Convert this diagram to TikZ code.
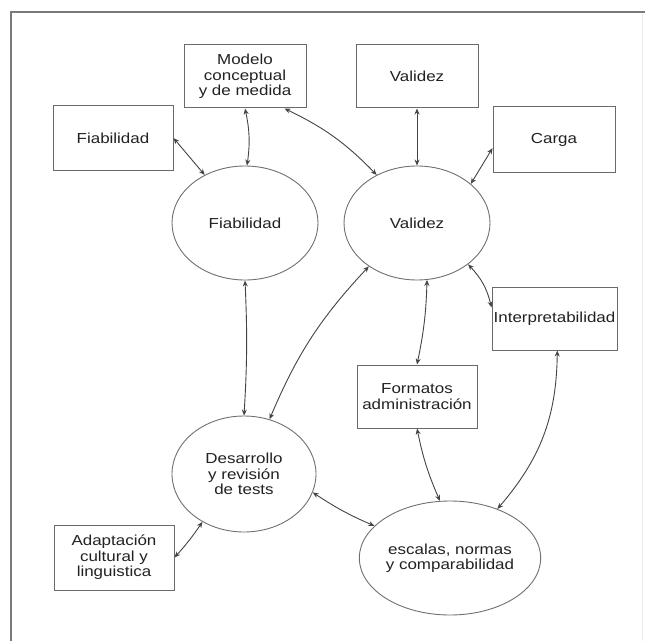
\documentclass[tikz,border=0pt]{standalone}
\usepackage{fontspec}
\setmainfont{Liberation Sans}[FakeStretch=1.17]
\usetikzlibrary{arrows.meta,shapes.geometric}
\definecolor{txt}{HTML}{222222}
\definecolor{boxc}{HTML}{6A6A6A}
\definecolor{ovc}{HTML}{707070}
\definecolor{linec}{HTML}{444444}
\definecolor{framec}{HTML}{7A7A7A}

\begin{document}
\begin{tikzpicture}[x=1bp,y=-1bp,
  every node/.style={font=\fontsize{14.5bp}{15.5bp}\selectfont, text=txt, align=center},
  box/.style={draw=boxc, line width=1bp, inner sep=0pt},
  oval/.style={ellipse, draw=ovc, line width=0.9bp, inner sep=0pt},
  tip/.tip={Stealth[length=6bp,width=5bp]},
  link/.style={draw=linec, line width=0.9bp, {tip}-{tip}},
]
% page and outer frame
\fill[white] (0,0) rectangle (645,641);
\useasboundingbox (0,0) rectangle (645,641);
\draw[framec, line width=2bp] (10,12) -- (645,12);
\draw[framec, line width=2bp] (11,12) -- (11,641);
\draw[black!8, line width=1bp] (642,14) -- (642,641);

% rectangular boxes
\node[box, minimum width=122bp, minimum height=63bp] (mb) at (245,76.5) {Modelo\\conceptual\\y de medida};
\node[box, minimum width=122bp, minimum height=63bp] (vb) at (417,76.5) {Validez};
\node[box, minimum width=120bp, minimum height=64bp] (fb) at (113,138) {Fiabilidad};
\node[box, minimum width=122bp, minimum height=65bp] (cb) at (554,139.5) {Carga};
\node[box, minimum width=125bp, minimum height=63bp] (ib) at (554.5,318.5) {Interpretabilidad};
\node[box, minimum width=120bp, minimum height=63bp] (ftb) at (417,396.5) {Formatos\\administración};
\node[box, minimum width=120bp, minimum height=65bp] (ab) at (114,557.5) {Adaptación\\cultural y\\linguistica};

% ellipses
\node[oval, minimum width=146bp, minimum height=114bp] (fe) at (245,223) {Fiabilidad};
\node[oval, minimum width=146bp, minimum height=114bp] (ve) at (417,223) {Validez};
\node[oval, minimum width=144bp, minimum height=116bp] (de) at (244,474) {Desarrollo\\y revisión\\de tests};
\node[oval, minimum width=145bp, minimum height=114bp] (ee) at (450,558) {escalas, normas\\y comparabilidad};

% connectors
\draw[link] (fb.east) -- (fe.130);
\draw[link] (mb.south) to[bend left=10] (fe.88);
\draw[link] (mb.-39) to[bend left=10] (ve.130);
\draw[link] (vb.south) -- (ve.north);
\draw[link] (cb.188) -- (ve.36);
\draw[link] (fe.south) to[bend left=3] (de.north);
\draw[link] (ve.222) to[bend right=10] (de.65);
\draw[link] (ve.-80) to[bend left=5] (ftb.north);
\draw[link] (ve.-39) to[bend left=15] (ib.170);
\draw[link] (ib.-85) to[bend left=20] (ee.46);
\draw[link] (ftb.south) to[bend right=6] (ee.100);
\draw[link] (de.-15) to[bend right=5] (ee.157);
\draw[link] (de.229) to[bend left=4] (ab.east);
\end{tikzpicture}
\end{document}
